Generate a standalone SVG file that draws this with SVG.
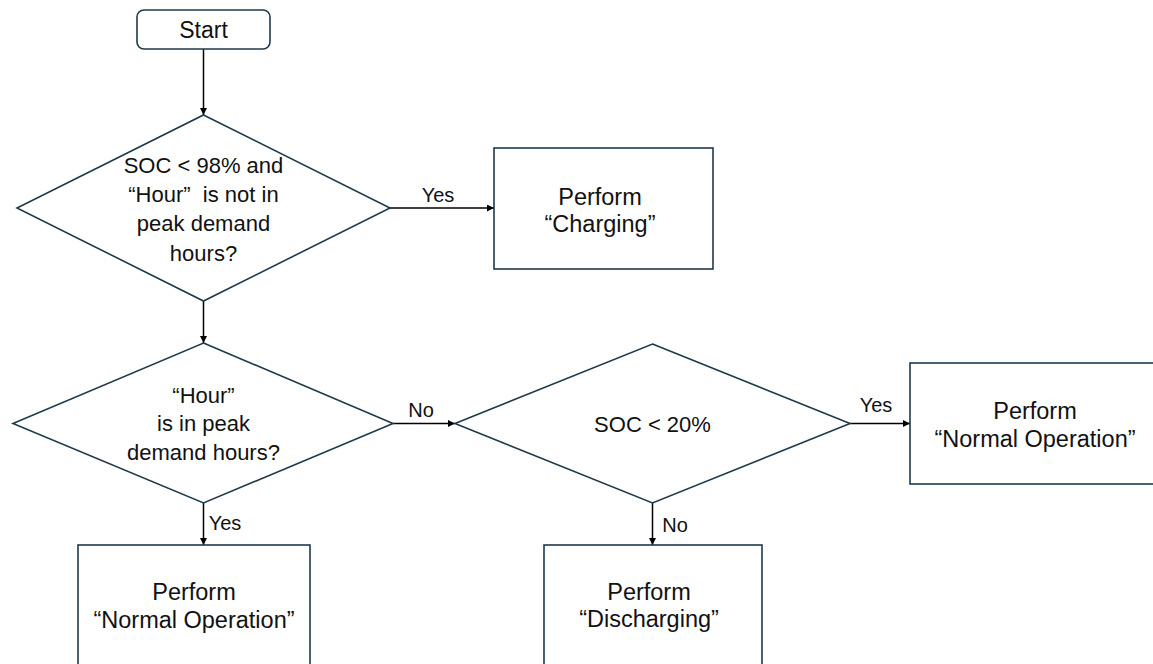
<svg xmlns="http://www.w3.org/2000/svg" width="1153" height="664" viewBox="0 0 1153 664">
<defs>
<style>
.shape{fill:#ffffff;stroke:#1f3a4b;stroke-width:1.6}
.conn{fill:none;stroke:#000000;stroke-width:1.5}
text{font-family:"Liberation Sans",Arial,sans-serif;fill:#111111;text-anchor:middle}
.t{font-size:22px}
.b{font-size:23.5px}
.l{font-size:20px}
</style>
<marker id="arr" viewBox="0 0 10 10" refX="10" refY="5" markerWidth="7" markerHeight="7" markerUnits="userSpaceOnUse" orient="auto">
<path d="M0,0 L10,5 L0,10 z" fill="#000"/>
</marker>
</defs>
<rect width="1153" height="664" fill="#ffffff"/>
<g id="connectors">
<line class="conn" x1="203.5" y1="49" x2="203.5" y2="115" marker-end="url(#arr)"/>
<line class="conn" x1="390" y1="208" x2="494" y2="208" marker-end="url(#arr)"/>
<line class="conn" x1="203.5" y1="301" x2="203.5" y2="343" marker-end="url(#arr)"/>
<line class="conn" x1="393" y1="423.5" x2="455" y2="423.5" marker-end="url(#arr)"/>
<line class="conn" x1="850" y1="423.5" x2="910" y2="423.5" marker-end="url(#arr)"/>
<line class="conn" x1="203.5" y1="503" x2="203.5" y2="545" marker-end="url(#arr)"/>
<line class="conn" x1="652.5" y1="503" x2="652.5" y2="545" marker-end="url(#arr)"/>
<text class="l" x="438" y="202">Yes</text>
<text class="l" x="421" y="417">No</text>
<text class="l" x="876" y="412">Yes</text>
<text class="l" x="225" y="530">Yes</text>
<text class="l" x="675" y="532">No</text>
</g>
<g id="start">
<rect class="shape" x="137" y="10" width="133" height="39" rx="7"/>
<text class="t" x="203.5" y="37.5" style="font-size:23px">Start</text>
</g>
<g id="decision1">
<polygon class="shape" points="203.5,115 390,208 203.5,301 17,208"/>
<text class="t" x="203.5" y="173">SOC &lt; 98% and</text>
<text class="t" x="203.5" y="202">“Hour”&#160; is not in</text>
<text class="t" x="203.5" y="231">peak demand</text>
<text class="t" x="203.5" y="261">hours?</text>
</g>
<g id="charging">
<rect class="shape" x="494" y="148" width="219" height="121"/>
<text class="b" x="600" y="205">Perform</text>
<text class="b" x="600" y="232">“Charging”</text>
</g>
<g id="decision2">
<polygon class="shape" points="203.5,343 393,423.5 203.5,503 13,423.5"/>
<text class="t" x="203.5" y="402.5">“Hour”</text>
<text class="t" x="203.5" y="431">is in peak</text>
<text class="t" x="203.5" y="460">demand hours?</text>
</g>
<g id="decision3">
<polygon class="shape" points="652.5,344 850,423.5 652.5,503 455,423.5"/>
<text class="t" x="652.5" y="432">SOC &lt; 20%</text>
</g>
<g id="normal-right">
<rect class="shape" x="910" y="363" width="260" height="121"/>
<text class="b" x="1035" y="419">Perform</text>
<text class="b" x="1035" y="447">“Normal Operation”</text>
</g>
<g id="normal-bottom">
<rect class="shape" x="78" y="545" width="232" height="140"/>
<text class="b" x="194" y="600">Perform</text>
<text class="b" x="194" y="628">“Normal Operation”</text>
</g>
<g id="discharging">
<rect class="shape" x="544" y="545" width="218" height="140"/>
<text class="b" x="649" y="600">Perform</text>
<text class="b" x="649" y="627">“Discharging”</text>
</g>
</svg>
